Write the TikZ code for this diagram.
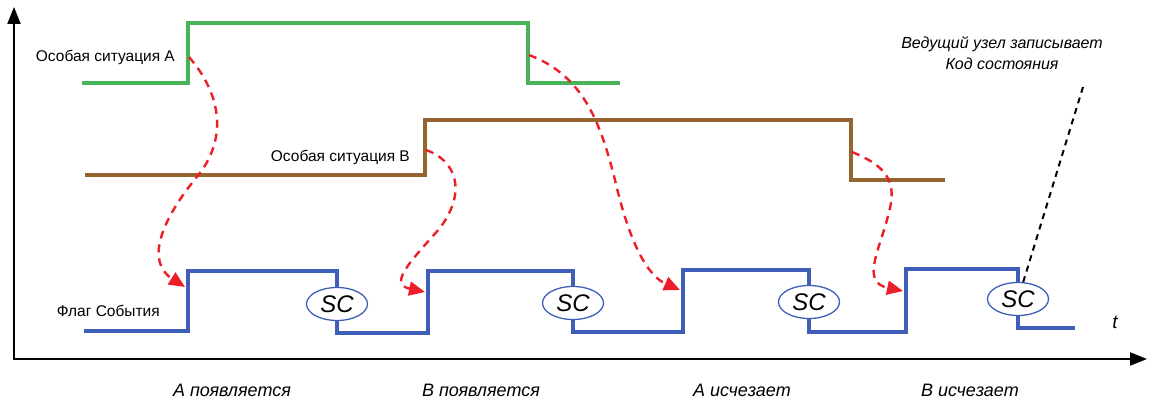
\documentclass[tikz,border=0pt]{standalone}
\usepackage{fontspec}
\setmainfont{Liberation Sans}
\usepackage{tikz}
\usetikzlibrary{arrows.meta, positioning, shapes.geometric}
\definecolor{sigA}{RGB}{72,180,90}
\definecolor{sigB}{RGB}{150,100,48}
\definecolor{flagblue}{RGB}{62,94,186}
\definecolor{trigred}{RGB}{236,30,40}
\tikzset{
  axis/.style={line width=2.2pt, {Triangle[length=17pt, width=13pt]}-{Triangle[length=17pt, width=13pt]}},
  wave/.style={line width=3.8pt, line join=miter},
  lbl/.style={font=\fontsize{15.5}{18}\selectfont, inner sep=0pt},
  evt/.style={font=\fontsize{18}{21}\selectfont\itshape, inner sep=0pt},
  scnode/.style={ellipse, draw=flagblue, fill=white, line width=1.3pt,
                 minimum width=61pt, minimum height=33pt, inner sep=0pt,
                 font=\fontsize{24}{26}\selectfont\itshape},
  trig/.style={draw=trigred, line width=2.4pt, dash pattern=on 8pt off 6pt,
               -{Triangle[length=16pt, width=14pt]}},
  note/.style={draw=black, line width=2pt, dash pattern=on 6pt off 5pt},
}

\begin{document}
\begin{tikzpicture}[x=1pt, y=-1pt]
  \useasboundingbox (0,0) rectangle (1149,403);

  % axes
  \coordinate (O)    at (14,359);
  \coordinate (ytop) at (14,7);
  \coordinate (xend) at (1147,359);
  \draw[axis] (ytop) -- (O) -- (xend);
  \node[font=\fontsize{19}{20}\selectfont\itshape] (t) at (1115,322) {t};

  % signal labels
  \node[lbl, anchor=east] (labA) at (175,57)  {Особая ситуация А};
  \node[lbl, anchor=east] (labB) at (410,157) {Особая ситуация В};
  \node[lbl, anchor=east] (labF) at (160,311) {Флаг События};

  % waveforms
  \draw[wave, sigA] (82,83) -- (188,83) -- (188,23) -- (528,23) -- (528,83) -- (620,83);
  \draw[wave, sigB] (85,175) -- (425,175) -- (425,120) -- (851,120) -- (851,180) -- (945,180);

  \node[scnode] (sc1) at (337,304) {SC};
  \node[scnode] (sc2) at (573,303) {SC};
  \node[scnode] (sc3) at (809,302) {SC};
  \node[scnode] (sc4) at (1018,299) {SC};

  \draw[wave, flagblue] (84,331) -- (188,331) -- (188,271) -- (337,271) -- (sc1.north);
  \draw[wave, flagblue] (sc1.south) -- (337,333) -- (428,333) -- (428,271) -- (573,271) -- (sc2.north);
  \draw[wave, flagblue] (sc2.south) -- (573,332) -- (683,332) -- (683,270) -- (809,270) -- (sc3.north);
  \draw[wave, flagblue] (sc3.south) -- (809,332) -- (906,332) -- (906,269) -- (1018,269) -- (sc4.north);
  \draw[wave, flagblue] (sc4.south) -- (1018,328) -- (1075,328);

  % triggers
  \coordinate (aUp)   at (189,57);
  \coordinate (bUp)   at (426,150);
  \coordinate (aDown) at (529,55);
  \coordinate (bDown) at (852,152);
  \coordinate (f1) at (185,287);
  \coordinate (f2) at (425,292);
  \coordinate (f3) at (680,290);
  \coordinate (f4) at (903,291);

  \draw[trig] (aUp) .. controls (222,95) and (228,140) .. (196,178)
                    .. controls (160,222) and (146,262) .. (f1);
  \draw[trig] (bUp) .. controls (455,160) and (468,190) .. (440,228)
                    .. controls (410,262) and (388,284) .. (f2);
  \draw[trig] (aDown) .. controls (582,75) and (600,120) .. (615,180)
                      .. controls (630,245) and (648,276) .. (f3);
  \draw[trig] (bDown) .. controls (884,165) and (898,180) .. (889,212)
                      .. controls (880,250) and (860,282) .. (f4);

  % master note
  \node[evt, font=\fontsize{16}{19}\selectfont\itshape, align=center] (master) at (1002,53)
    {Ведущий узел записывает\\[2pt]Код состояния};
  \coordinate (mtail) at (1083,87);
  \draw[note] (mtail) -- (sc4);

  % events
  \node[evt] (ev1) at (232,390) {A появляется};
  \node[evt] (ev2) at (481,390) {B появляется};
  \node[evt] (ev3) at (742,390) {A исчезает};
  \node[evt] (ev4) at (970,390) {B исчезает};
\end{tikzpicture}
\end{document}
